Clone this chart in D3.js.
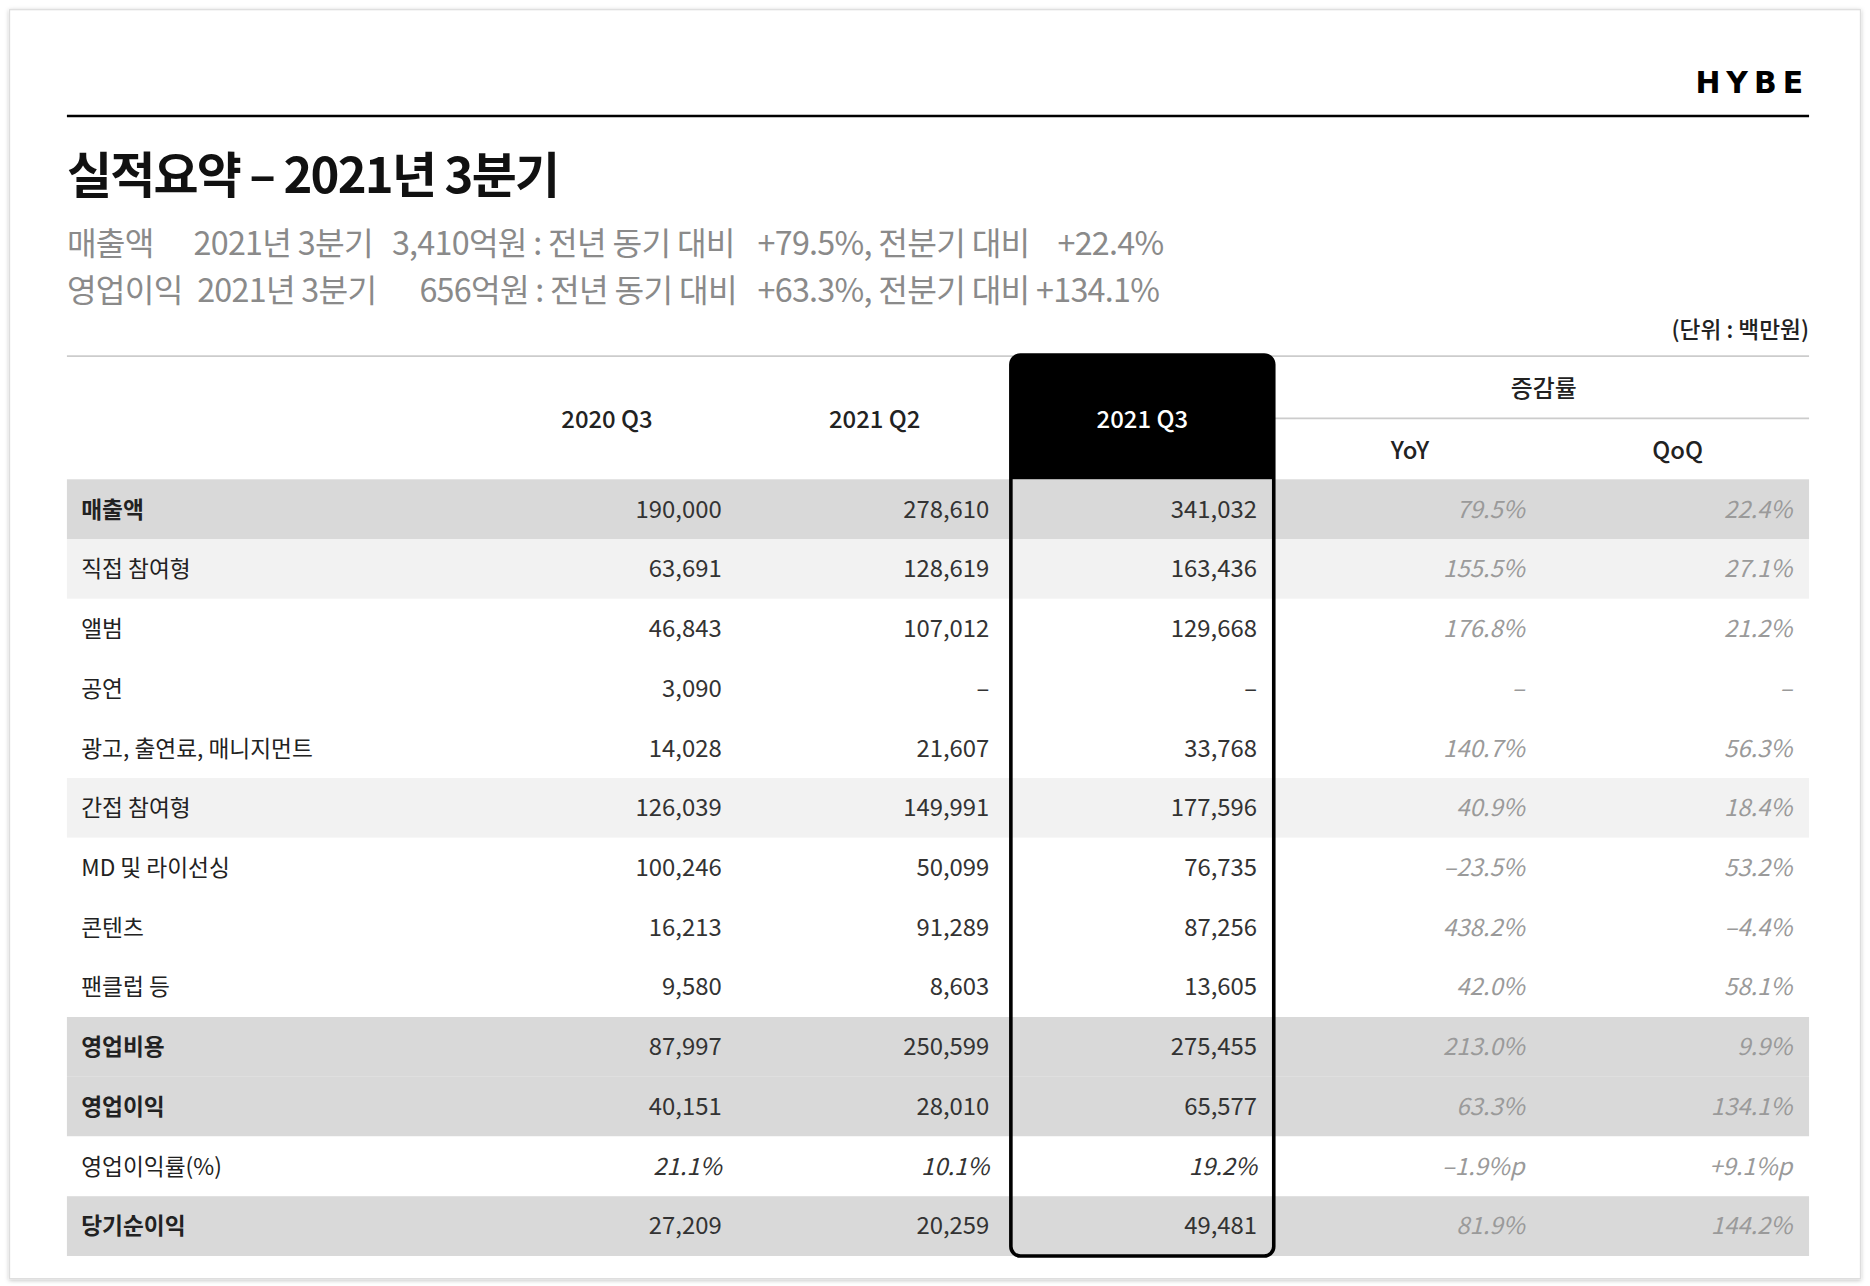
<!DOCTYPE html>
<html>
<head>
<meta charset="utf-8"/>
<script src="https://d3js.org/d3.v7.min.js"></script>
<style>
  body { margin: 0; background: #fff; }
  svg text { font-family: "Noto Sans CJK KR", "Noto Sans", sans-serif; }
</style>
</head>
<body>
<div id="chart"></div>
<script>
// table data
var rowLabels = ["매출액", "직접 참여형", "앨범", "공연", "광고, 출연료, 매니지먼트", "간접 참여형",
                 "MD 및 라이선싱", "콘텐츠", "팬클럽 등", "영업비용", "영업이익", "영업이익률(%)", "당기순이익"];
// total = bold heading row, group = sub total, item = detail, ratio = percentage row
var rowTypes = ["total", "group", "item", "item", "item", "group", "item", "item", "item", "total", "total", "ratio", "total"];
var periods = ["2020 Q3", "2021 Q2", "2021 Q3"];
var q3_2020 = ["190,000", "63,691", "46,843", "3,090", "14,028", "126,039", "100,246", "16,213", "9,580", "87,997", "40,151", "21.1%", "27,209"];
var q2_2021 = ["278,610", "128,619", "107,012", "–", "21,607", "149,991", "50,099", "91,289", "8,603", "250,599", "28,010", "10.1%", "20,259"];
var q3_2021 = ["341,032", "163,436", "129,668", "–", "33,768", "177,596", "76,735", "87,256", "13,605", "275,455", "65,577", "19.2%", "49,481"];
var yoy = ["79.5%", "155.5%", "176.8%", "–", "140.7%", "40.9%", "–23.5%", "438.2%", "42.0%", "213.0%", "63.3%", "–1.9%p", "81.9%"];
var qoq = ["22.4%", "27.1%", "21.2%", "–", "56.3%", "18.4%", "53.2%", "–4.4%", "58.1%", "9.9%", "134.1%", "+9.1%p", "144.2%"];
var rateHeaders = ["YoY", "QoQ"];

function drawChart() {
    var W = 1565, H = 1076;
    var svg = d3.select("#chart").append("svg")
        .attr("width", 1870).attr("height", 1286)
        .attr("viewBox", "0 0 " + W + " " + H);

    // card with soft shadow
    var defs = svg.append("defs");
    var f = defs.append("filter").attr("id", "sh").attr("x", "-5%").attr("y", "-5%").attr("width", "110%").attr("height", "110%");
    f.append("feDropShadow").attr("dx", 0).attr("dy", 1).attr("stdDeviation", 2).attr("flood-color", "#000").attr("flood-opacity", 0.25);
    svg.append("rect").attr("x", 8).attr("y", 8).attr("width", 1549).attr("height", 1062)
        .attr("fill", "#fff").attr("stroke", "#ddd").attr("filter", "url(#sh)");

    var L = 56, R = 1514;

    // header
    svg.append("text").attr("x", R).attr("y", 78).attr("text-anchor", "end")
        .style("font-size", "25px").style("font-weight", 700).style("letter-spacing", "5px")
        .style("font-family", "'DejaVu Sans', sans-serif").text("HYBE");
    svg.append("line").attr("x1", L).attr("x2", R).attr("y1", 97).attr("y2", 97)
        .attr("stroke", "#000").attr("stroke-width", 2);

    svg.append("text").attr("x", L).attr("y", 161)
        .style("font-size", "41px").style("font-weight", 700).style("letter-spacing", "-1.5px")
        .attr("fill", "#111").text("실적요약 – 2021년 3분기");

    // summary lines
    var sub = [
        [56, 213, "매출액"], [162, 213, "2021년 3분기"], [328, 213, "3,410억원 : 전년 동기 대비"],
        [634, 213, "+79.5%, 전분기 대비"], [885, 213, "+22.4%"],
        [56, 253, "영업이익"], [165, 253, "2021년 3분기"], [351, 253, "656억원 : 전년 동기 대비"],
        [634, 253, "+63.3%, 전분기 대비 +134.1%"]
    ];
    svg.selectAll("text.sub").data(sub).enter().append("text").attr("class", "sub")
        .attr("x", function(d) { return d[0]; }).attr("y", function(d) { return d[1]; })
        .style("font-size", "27px").style("letter-spacing", "-0.6px").attr("fill", "#8a8a8a")
        .text(function(d) { return d[2]; });

    svg.append("text").attr("x", R).attr("y", 283).attr("text-anchor", "end")
        .style("font-size", "19px").style("font-weight", 500).attr("fill", "#222").text("(단위 : 백만원)");
    svg.append("line").attr("x1", L).attr("x2", R).attr("y1", 298).attr("y2", 298)
        .attr("stroke", "#ccc").attr("stroke-width", 1.5);

    // scales
    var colKeys = periods.concat(rateHeaders);
    var x = d3.scaleBand().domain(colKeys).range([396, 1516]);
    var y = d3.scaleBand().domain(d3.range(rowLabels.length)).range([401, 1051]);
    var bg = { total: "#d9d9d9", group: "#f2f2f2", item: "#fff", ratio: "#fff" };

    // row backgrounds
    svg.selectAll("rect.row").data(rowLabels).enter().append("rect").attr("class", "row")
        .attr("x", L).attr("width", R - L)
        .attr("y", function(d, i) { return y(i); }).attr("height", y.bandwidth())
        .attr("fill", function(d, i) { return bg[rowTypes[i]]; });

    // highlighted column header
    var hx = x("2021 Q3") + 2, hw = x.bandwidth() - 4;
    svg.append("path").attr("fill", "#000")
        .attr("d", "M" + hx + ",401 V305 q0,-8 8,-8 H" + (hx + hw - 8) + " q8,0 8,8 V401 Z");

    // column headers
    svg.selectAll("text.ph").data(periods).enter().append("text").attr("class", "ph")
        .attr("x", function(d) { return x(d) + x.bandwidth() / 2; }).attr("y", 358)
        .attr("text-anchor", "middle").style("font-size", "20px").style("font-weight", 500)
        .attr("fill", function(d) { return d === "2021 Q3" ? "#fff" : "#222"; })
        .text(function(d) { return d; });
    svg.append("text").attr("x", x("YoY") + x.bandwidth()).attr("y", 332).attr("text-anchor", "middle")
        .style("font-size", "20px").style("font-weight", 500).attr("fill", "#222").text("증감률");
    svg.append("line").attr("x1", hx + hw).attr("x2", R).attr("y1", 350).attr("y2", 350)
        .attr("stroke", "#ccc").attr("stroke-width", 1.5);
    svg.selectAll("text.rh").data(rateHeaders).enter().append("text").attr("class", "rh")
        .attr("x", function(d) { return x(d) + x.bandwidth() / 2; }).attr("y", 384)
        .attr("text-anchor", "middle").style("font-size", "20px").style("font-weight", 500)
        .attr("fill", "#222").text(function(d) { return d; });

    // row labels
    svg.selectAll("text.lbl").data(rowLabels).enter().append("text").attr("class", "lbl")
        .attr("x", 68).attr("y", function(d, i) { return y(i) + y.bandwidth() / 2 + 7; })
        .style("font-size", "19px")
        .style("font-weight", function(d, i) { return rowTypes[i] === "total" ? 700 : 400; })
        .attr("fill", "#222").text(function(d) { return d; });

    // values
    var cols = [q3_2020, q2_2021, q3_2021, yoy, qoq];
    cols.forEach(function(vals, c) {
        var key = colKeys[c];
        var rate = c >= 3;
        svg.selectAll("text.v" + c).data(vals).enter().append("text").attr("class", "v" + c)
            .attr("x", x(key) + x.bandwidth() - 16)
            .attr("y", function(d, i) { return y(i) + y.bandwidth() / 2 + 7; })
            .attr("text-anchor", "end").style("font-size", "20px")
            .style("font-style", function(d, i) { return (rate || rowTypes[i] === "ratio") ? "italic" : "normal"; })
            .attr("fill", function(d) { return rate ? "#9a9a9a" : "#333"; })
            .text(function(d) { return d; });
    });

    // highlight frame
    svg.append("rect").attr("x", hx).attr("y", 297).attr("width", hw).attr("height", 754)
        .attr("rx", 8).attr("fill", "none").attr("stroke", "#000").attr("stroke-width", 3);
}
drawChart();
</script>
</body>
</html>
